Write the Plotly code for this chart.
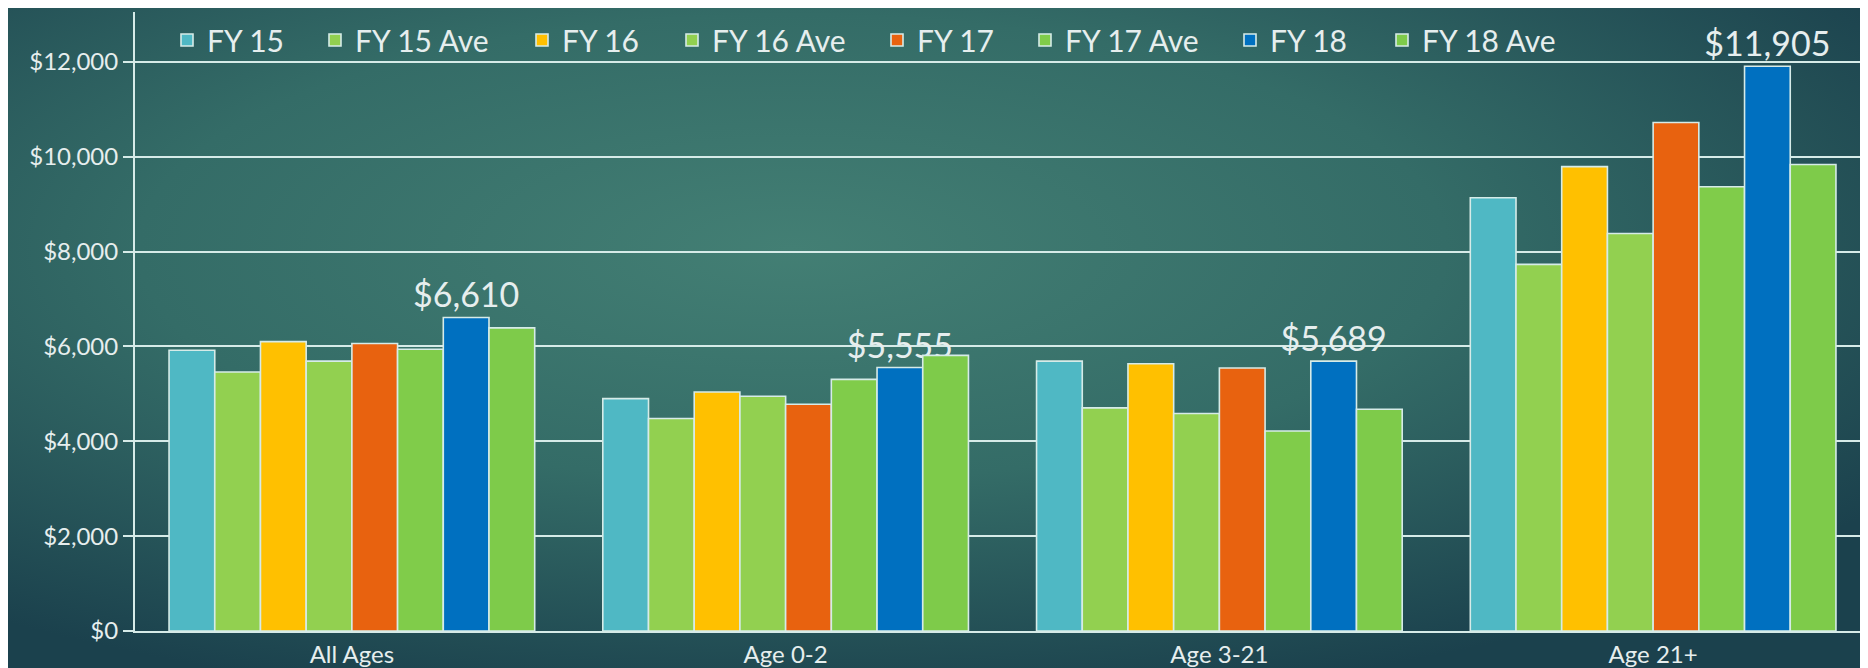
import base64
import plotly.graph_objects as go

categories = ["All Ages", "Age 0-2", "Age 3-21", "Age 21+"]
series_names = ["FY 15", "FY 15 Ave", "FY 16", "FY 16 Ave", "FY 17", "FY 17 Ave", "FY 18", "FY 18 Ave"]

fy15 = [5920, 4900, 5690, 9135]
fy15_ave = [5460, 4480, 4705, 7730]
fy16 = [6100, 5040, 5635, 9790]
fy16_ave = [5690, 4950, 4585, 8380]
fy17 = [6060, 4780, 5545, 10720]
fy17_ave = [5940, 5305, 4215, 9365]
fy18 = [6610, 5555, 5689, 11905]
fy18_ave = [6390, 5810, 4675, 9835]

series_values = [fy15, fy15_ave, fy16, fy16_ave, fy17, fy17_ave, fy18, fy18_ave]
labeled_series = "FY 18"

y_tick_values = [0, 2000, 4000, 6000, 8000, 10000, 12000]
y_tick_labels = ["$0", "$2,000", "$4,000", "$6,000", "$8,000", "$10,000", "$12,000"]

# ---- styling ----
colors = ["#4fb8c4", "#92d050", "#ffc000", "#92d050", "#e8620f", "#80cc4a", "#0070c0", "#7ecb4a"]
outline = "#d6ebe8"
text_color = "#e6eeee"
font_family = "Lato, 'Noto Sans', sans-serif"

W, H = 1868, 668
ml, mr, mt, mb = 127, 6, 4, 45
pw, ph = W - ml - mr, H - mt - mb

# legend text start positions (px) in the reference
legend_text_px = [194, 342, 549, 699, 904, 1052, 1257, 1409]

fig = go.Figure()
for i, (name, vals) in enumerate(zip(series_names, series_values)):
    leg_id = "legend" if i == 0 else f"legend{i + 1}"
    kw = {}
    if name == labeled_series:
        kw = dict(
            text=vals,
            texttemplate="$%{y:,.0f}",
            textposition="outside",
            textfont=dict(size=34, color=text_color, family=font_family),
            constraintext="none",
            cliponaxis=False,
        )
    fig.add_trace(go.Bar(
        x=categories, y=vals, name=name,
        marker=dict(color=colors[i], line=dict(color=outline, width=1.6)),
        legend=leg_id, showlegend=True,
        **kw,
    ))

svg = (
    "<svg xmlns='http://www.w3.org/2000/svg' width='1868' height='668' "
    "viewBox='0 0 1868 668' preserveAspectRatio='none'>"
    "<defs><radialGradient id='g' cx='0.42' cy='0.36' r='0.70'>"
    "<stop offset='0' stop-color='#437f74'/>"
    "<stop offset='0.5' stop-color='#346c67'/>"
    "<stop offset='1' stop-color='#1b414d'/>"
    "</radialGradient></defs>"
    "<rect x='0' y='0' width='1868' height='668' fill='url(#g)'/></svg>"
)
src = "data:image/svg+xml;base64," + base64.b64encode(svg.encode()).decode()

layout = dict(
    width=W, height=H,
    margin=dict(l=ml, r=mr, t=mt, b=mb),
    paper_bgcolor="#1d4450",
    plot_bgcolor="rgba(0,0,0,0)",
    showlegend=True,
    barmode="group",
    bargap=0.157,
    bargroupgap=0,
    font=dict(family=font_family, color=text_color),
    images=[dict(
        source=src, xref="paper", yref="paper",
        x=-ml / pw, y=1 + mt / ph, sizex=W / pw, sizey=H / ph,
        xanchor="left", yanchor="top", sizing="stretch", layer="below",
    )],
    xaxis=dict(
        showline=True, linecolor=outline, linewidth=2,
        showgrid=False, ticks="",
        tickfont=dict(size=24, color=text_color),
        ticklabelstandoff=1,
    ),
    yaxis=dict(
        range=[0, 13050],
        tickvals=y_tick_values, ticktext=y_tick_labels,
        showgrid=True, gridcolor=outline, gridwidth=2,
        showline=True, linecolor=outline, linewidth=2,
        ticks="outside", ticklen=10, tickcolor=outline, tickwidth=2,
        tickfont=dict(size=24, color=text_color),
        zeroline=False,
    ),
)
for i, tx in enumerate(legend_text_px):
    leg_id = "legend" if i == 0 else f"legend{i + 1}"
    layout[leg_id] = dict(
        orientation="h",
        x=(tx - 35 - ml) / pw, xanchor="left",
        y=1 - 28 / ph, yanchor="middle",
        bgcolor="rgba(0,0,0,0)", borderwidth=0,
        font=dict(size=30, color=text_color, family=font_family),
    )
fig.update_layout(**layout)

fig.write_html("out.html")
